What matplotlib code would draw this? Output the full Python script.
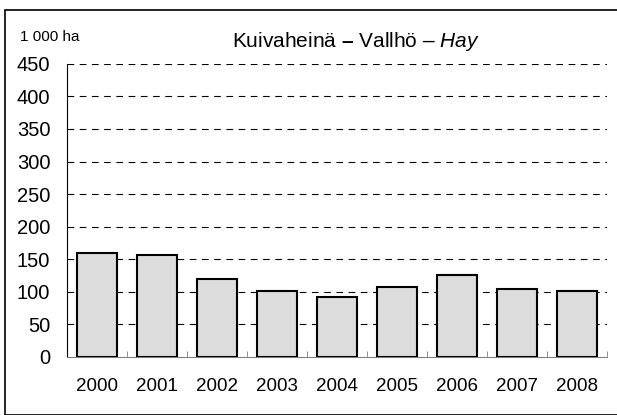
import matplotlib.pyplot as plt
import matplotlib.patches as patches
import numpy as np

plt.rcParams['font.family'] = ['Liberation Sans', 'DejaVu Sans']
plt.rcParams['mathtext.fontset'] = 'custom'
plt.rcParams['mathtext.rm'] = 'Liberation Sans'
plt.rcParams['mathtext.it'] = 'Liberation Sans:italic'
plt.rcParams['mathtext.bf'] = 'Liberation Sans:bold'

years = ['2000', '2001', '2002', '2003', '2004', '2005', '2006', '2007', '2008']
hay = [160, 157, 119, 101, 92, 107, 126, 104, 101]
yticks = [0, 50, 100, 150, 200, 250, 300, 350, 400, 450]

fig = plt.figure(figsize=(6.17, 4.15), dpi=100)
ax = fig.add_axes([0.1086, 0.1405, 0.8755, 0.7055])

x = np.arange(len(years))
ax.bar(x, hay, width=0.66, color='#dcdcdc', edgecolor='black', linewidth=1.5, zorder=3)

ax.set_ylim(0, 450)
ax.set_xlim(-0.5, len(years) - 0.5)
ax.set_yticks(yticks)
ax.set_yticklabels([str(v) for v in yticks], fontsize=14.5)
for v in yticks[1:]:
    ax.axhline(v, color='black', linewidth=0.8, dashes=(6, 5), zorder=1)

# year labels under the bars, ticks between them
ax.set_xticks(x)
ax.set_xticklabels(years, fontsize=13.5)
ax.tick_params(axis='x', length=0, pad=15)
ax.set_xticks(np.arange(-0.5, len(years)), minor=True)
ax.tick_params(axis='x', which='minor', direction='in', length=4, color='#808080')
ax.tick_params(axis='y', length=0, pad=12)

ax.spines['top'].set_visible(False)
ax.spines['right'].set_visible(False)
ax.spines['bottom'].set_color('#808080')
ax.spines['left'].set_color('black')

fig.text(0.577, 0.9, r'Kuivaheinä $\bf{–}$ Vallhö – $\it{Hay}$', fontsize=15,
         ha='center', va='center')
fig.text(0.032, 0.912, '1 000 ha', fontsize=11, ha='left', va='center')

# frame around the figure
border = patches.Rectangle((5 / 617, 0), 1.0, 1 - 10 / 415, transform=fig.transFigure,
                           fill=False, edgecolor='black', linewidth=1.2)
fig.patches.append(border)

fig.savefig('out.png', dpi=100)
